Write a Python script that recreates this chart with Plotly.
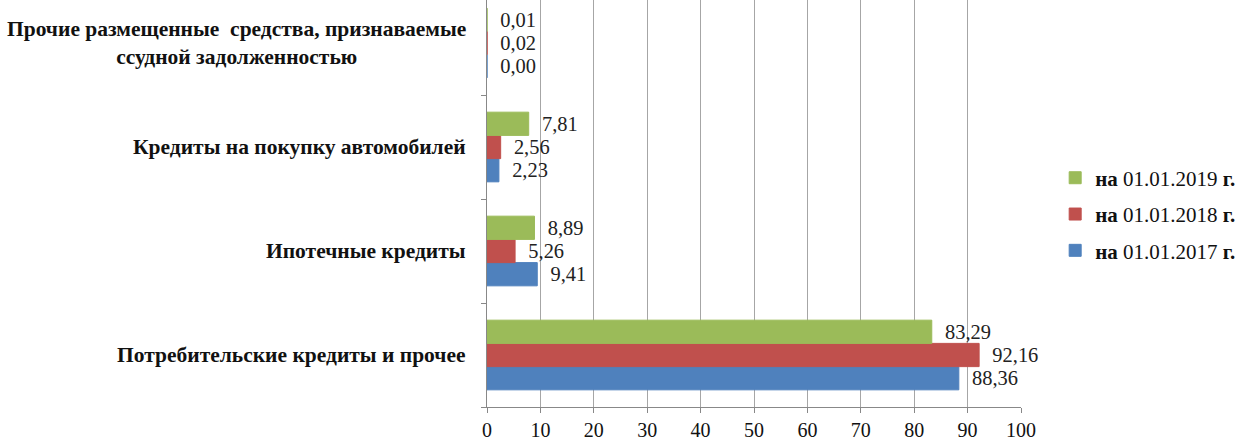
import plotly.graph_objects as go

# Loan portfolio structure, % of total
categories = [
    "Потребительские кредиты и прочее",
    "Ипотечные кредиты",
    "Кредиты на покупку автомобилей",
    "Прочие размещенные  средства, признаваемые<br>ссудной задолженностью",
]
series_names = ["на 01.01.2017 г.", "на 01.01.2018 г.", "на 01.01.2019 г."]
values_2017 = [88.36, 9.41, 2.23, 0.00]
values_2018 = [92.16, 5.26, 2.56, 0.02]
values_2019 = [83.29, 8.89, 7.81, 0.01]
x_ticks = [0, 10, 20, 30, 40, 50, 60, 70, 80, 90, 100]

colors = ["#4F81BD", "#C0504D", "#9BBB59"]
series_values = [values_2017, values_2018, values_2019]

W, H = 1249, 442
left, right, top, bottom = 487, 228, 0, 35
serif = "Liberation Serif"

fig = go.Figure()
n = len(series_names)
for i, (name, vals, col) in enumerate(zip(series_names, series_values, colors)):
    label = name.replace("на ", "<b>на</b> ").replace(" г.", " <b>г.</b>")
    fig.add_trace(go.Bar(
        y=list(range(len(categories))),
        x=vals,
        orientation="h",
        name=label,
        legendgroup=str(i),
        legendrank=n - i,  # newest date listed first
        marker=dict(color=col, line=dict(width=1, color=col)),
        texttemplate="  %{x:.2f}",
        textposition="outside",
        textfont=dict(family=serif, size=22, color="#222"),
        cliponaxis=False,
    ))

# category labels on the left of the axis
for i, cat in enumerate(categories):
    fig.add_annotation(
        x=-0.035, xref="paper", y=i, yref="y",
        text=cat, showarrow=False, xanchor="right", yanchor="middle",
        align="center",
        font=dict(family=serif, size=21.5, color="#111", weight="bold"),
    )

fig.update_layout(
    width=W, height=H,
    margin=dict(l=left, r=right, t=top, b=bottom),
    paper_bgcolor="white", plot_bgcolor="white",
    barmode="group", bargap=0.33, bargroupgap=0,
    separators=", ",
    showlegend=True,
    legend=dict(
        x=1.064, xanchor="left", y=0.474, yanchor="middle",
        traceorder="grouped", tracegroupgap=6,
        font=dict(family=serif, size=21, color="#111"),
        itemwidth=30,
    ),
    xaxis=dict(
        range=[0, 100], tickvals=x_ticks,
        ticks="outside", ticklen=5, tickcolor="#888",
        showline=True, linecolor="#888", linewidth=1,
        showgrid=True, gridcolor="#a6a6a6", gridwidth=1,
        zeroline=False, ticklabelstandoff=0, automargin=False,
        tickfont=dict(family=serif, size=20, color="#111"),
    ),
    yaxis=dict(
        type="linear",
        range=[-0.5, 3.5 - 9 / 104],
        tickvals=[-0.5, 0.5, 1.5, 2.5, 3.5],
        showticklabels=False,
        ticks="outside", ticklen=5, tickcolor="#888",
        showline=True, linecolor="#888", linewidth=1,
        showgrid=False, zeroline=False, automargin=False,
    ),
)

fig.write_html("out.html")
